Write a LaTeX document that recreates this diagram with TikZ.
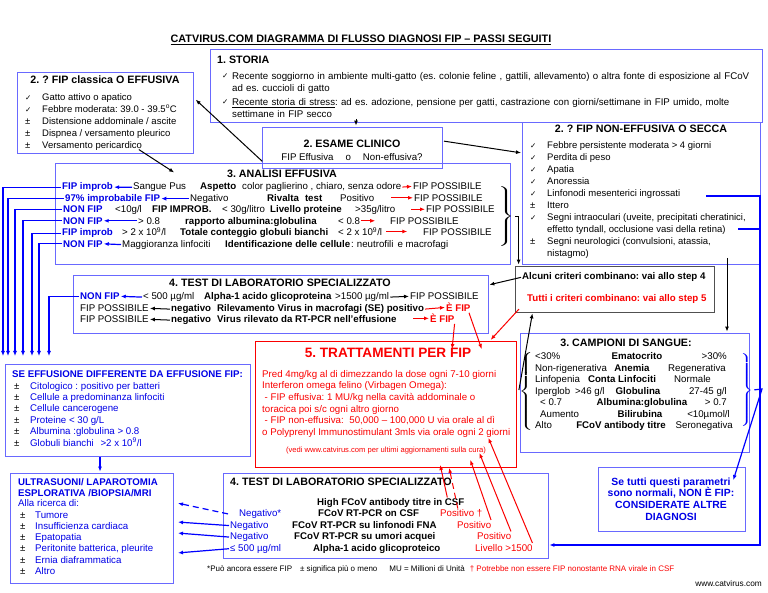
\documentclass[tikz,border=0pt]{standalone}
\usepackage{fontspec}
\setmainfont{Liberation Sans}
\newfontfamily\symfont{DejaVu Sans}
\usepackage{graphicx}
\usetikzlibrary{arrows.meta}
\hyphenpenalty=10000
\exhyphenpenalty=10000
\frenchspacing

\definecolor{boxblue}{RGB}{105,105,255}
\definecolor{lnblue}{RGB}{0,0,255}
\definecolor{txblue}{RGB}{0,0,230}
\definecolor{txred}{RGB}{250,0,0}
\definecolor{boxgray}{RGB}{80,80,80}

\newcommand{\fsn}{\fontsize{9.7}{11.5}\selectfont}
\newcommand{\fsh}{\fontsize{10.7}{12}\selectfont\bfseries}
\newcommand{\tck}{{\symfont\fontsize{7.5}{9}\selectfont ✓}}
\newcommand{\pmk}{\textcolor{black}{±}}

\tikzset{
  bbox/.style={draw=boxblue, line width=0.8pt, inner sep=0pt},
  lbl/.style={anchor=mid west, inner sep=0pt, font=\fsn},
  lblb/.style={anchor=mid west, inner sep=0pt, font=\fsn\bfseries},
  lblc/.style={anchor=mid, inner sep=0pt, font=\fsn},
  lble/.style={anchor=mid east, inner sep=0pt, font=\fsn},
  fipb/.style={lblb, text=txblue},
  hd/.style={anchor=mid west, inner sep=0pt, font=\fsh},
  hdc/.style={anchor=mid, inner sep=0pt, font=\fsh},
  lst/.style={anchor=base west, inner sep=0pt, font=\fsn},
  para/.style={anchor=base west, inner sep=0pt, font=\fontsize{9.7}{12}\selectfont, text width=530pt, align=left},
  karrow/.style={draw=black, line width=1pt, shorten <=1pt, shorten >=1pt, -{Latex[length=5pt,width=4pt]}},
  barrow/.style={draw=lnblue, line width=1.2pt, shorten <=1pt, shorten >=1pt, -{Latex[length=5pt,width=4pt]}},
  rarrow/.style={draw=txred, line width=1pt, shorten <=1pt, shorten >=1pt, -{Latex[length=5pt,width=4pt]}},
  bline/.style={draw=lnblue, line width=1.2pt}
}

\begin{document}
\begin{tikzpicture}[x=1pt,y=-1pt]
  \useasboundingbox (0,0) rectangle (768,593);

  \node[font=\fontsize{10.8}{12}\selectfont\bfseries, inner sep=0pt] (title) at (361,40) {\underline{CATVIRUS.COM DIAGRAMMA DI FLUSSO DIAGNOSI FIP – PASSI SEGUITI}};

  % boxes
  \node[bbox, minimum width=552, minimum height=73] (storia) at (486,85.5) {};
  \node[bbox, minimum width=176, minimum height=81] (fipclas) at (105,112.5) {};
  \node[bbox, minimum width=180, minimum height=41] (esame) at (352,147.5) {};
  \node[bbox, minimum width=238, minimum height=142] (secca) at (641,193) {};
  \node[bbox, minimum width=455, minimum height=101] (analisi) at (282.5,213.5) {};
  \node[bbox, minimum width=415, minimum height=58] (testa) at (280.5,304) {};
  \node[bbox, draw=boxgray, minimum width=199, minimum height=46] (criteri) at (614.5,289) {};
  \node[bbox, draw=txred, minimum width=261, minimum height=126] (tratt) at (385.5,404) {};
  \node[bbox, minimum width=229, minimum height=119] (campioni) at (634.5,392.5) {};
  \node[bbox, minimum width=245, minimum height=92] (seeff) at (127.5,410) {};
  \node[bbox, minimum width=163, minimum height=110] (ultra) at (91.5,528) {};
  \node[bbox, minimum width=325, minimum height=85] (testb) at (385.5,515.5) {};
  \node[bbox, minimum width=147, minimum height=64] (setutti) at (671.5,499) {};

  % 1. storia
  \node[hd] (storiah) at (217,61) {1. STORIA};
  \node[lbl] (ck1) at (222,76) {\tck};
  \node[para] (st1) at (232,79.3) {\makebox[525pt][s]{Recente soggiorno in ambiente multi-gatto (es. colonie feline , gattili, allevamento) o altra fonte di esposizione al FCoV}\\ad es. cuccioli di gatto};
  \node[lbl] (ck2) at (222,102) {\tck};
  \node[para] (st2) at (232,105.3) {\makebox[525pt][s]{\underline{Recente storia di stress}: ad es. adozione, pensione per gatti, castrazione con giorni/settimane in FIP umido, molte}\\settimane in FIP secco};
  \coordinate (secco) at (356,118);

  % 2. fip classica
  \node[hdc] (fipclash) at (105,81) {2. ? FIP classica O EFFUSIVA};
  \node[lst, font=\fontsize{9.5}{12}\selectfont] (fipclasl) at (25,100.3) {\begin{tabular}[t]{@{}p{17pt}@{}l@{}}
    \tck & Gatto attivo o apatico\\
    \tck & Febbre moderata: 39.0 - 39.5\textsuperscript{o}C\\
    ± & Distensione addominale / ascite\\
    ± & Dispnea / versamento pleurico\\
    ± & Versamento pericardico
  \end{tabular}};

  % 2. esame clinico
  \node[hdc] (esameh) at (352,145) {2. ESAME CLINICO};
  \node[lblc] (esamet) at (352,158) {FIP Effusiva\hspace{12pt}o\hspace{12pt}Non-effusiva?};

  % 2. fip secca
  \node[hdc] (seccah) at (641,130) {2. ? FIP NON-EFFUSIVA O SECCA};
  \node[lst, font=\fontsize{9.5}{12}\selectfont] (seccal) at (530,148.3) {\begin{tabular}[t]{@{}p{17pt}@{}l@{}}
    \tck & Febbre persistente moderata > 4 giorni\\
    \tck & Perdita di peso\\
    \tck & Apatia\\
    \tck & Anoressia\\
    \tck & Linfonodi mesenterici ingrossati\\
    ± & Ittero\\
    \tck & Segni intraoculari (uveite, precipitati cheratinici,\\
     & effetto tyndall, occlusione vasi della retina)\\
    ± & Segni neurologici (convulsioni, atassia,\\
     & nistagmo)
  \end{tabular}};
  \coordinate (linf) at (705,196);
  \coordinate (tynd) at (738,229);

  % 3. analisi effusiva
  \node[hdc] (analisih) at (282,175) {3. ANALISI EFFUSIVA};
  \node[fipb] (a1a) at (62,187) {FIP improb};
  \node[lbl] (a1b) at (133,187) {Sangue Pus};
  \node[lblb] (a1c) at (200,187) {Aspetto};
  \node[lbl] (a1d) at (242,187) {color paglierino , chiaro, senza odore};
  \node[lbl] (a1e) at (413,187) {FIP POSSIBILE};
  \node[fipb] (a2a) at (65,198.5) {97\% improbabile FIP};
  \node[lbl] (a2b) at (190,198.5) {Negativo};
  \node[lblb] (a2c) at (267,198.5) {Rivalta\hspace{6pt}test};
  \node[lbl] (a2d) at (340,198.5) {Positivo};
  \node[lbl] (a2e) at (414,198.5) {FIP POSSIBILE};
  \node[fipb] (a3a) at (63,210) {NON FIP};
  \node[lbl] (a3b) at (115,210) {<10g/l};
  \node[lblb] (a3c) at (152,210) {FIP IMPROB.};
  \node[lbl] (a3d) at (222,210) {< 30g/litro};
  \node[lblb] (a3e) at (270,210) {Livello proteine};
  \node[lbl] (a3f) at (355,210) {>35g/litro};
  \node[lbl] (a3g) at (426,210) {FIP POSSIBILE};
  \node[fipb] (a4a) at (63,221.5) {NON FIP};
  \node[lbl] (a4b) at (138,221.5) {> 0.8};
  \node[lblb] (a4c) at (185,221.5) {rapporto albumina:globulina};
  \node[lbl] (a4d) at (338,221.5) {< 0.8};
  \node[lbl] (a4e) at (390,221.5) {FIP POSSIBILE};
  \node[fipb] (a5a) at (62,233) {FIP improb};
  \node[lbl] (a5b) at (122,233) {> 2 x 10\textsuperscript{9}/l};
  \node[lblb] (a5c) at (180,233) {Totale conteggio globuli bianchi};
  \node[lbl] (a5d) at (338,233) {< 2 x 10\textsuperscript{9}/l};
  \node[lbl] (a5e) at (423,233) {FIP POSSIBILE};
  \node[fipb] (a6a) at (63,244.5) {NON FIP};
  \node[lbl] (a6b) at (122,244.5) {Maggioranza linfociti};
  \node[lblb] (a6c) at (225,244.5) {Identificazione delle cellule};
  \node[lbl] (a6d) at (351,244.5) {:\hspace{3pt}neutrofili\hspace{4pt}e macrofagi};
  \node[inner sep=0pt] (abrace) at (505,217) {\scalebox{1.8}[1]{$\left.\vcenter{\hbox{\rule{0pt}{64pt}}}\right\}$}};

  \draw[barrow] (a1b.west) -- (a1a.east);
  \draw[rarrow] (a1d.east) -- (a1e.west);
  \draw[barrow] (a2b.west) -- (a2a.east);
  \draw[rarrow] ([xshift=-24pt]a2e.west) -- (a2e.west);
  \draw[rarrow] ([xshift=-16pt]a3g.west) -- (a3g.west);
  \draw[barrow] (a4b.west) -- (a4a.east);
  \draw[rarrow] (a4d.east) -- ([xshift=16pt]a4d.east);
  \draw[rarrow] ([xshift=3pt]a5d.east) -- ([xshift=26pt]a5d.east);
  \draw[barrow] (a6b.west) -- (a6a.east);

  % 4. test (effusiva)
  \node[hdc] (testah) at (280,284) {4. TEST DI LABORATORIO SPECIALIZZATO};
  \node[fipb] (t1a) at (80,297) {NON FIP};
  \node[lbl] (t1b) at (143,297) {< 500 µg/ml};
  \node[lblb] (t1c) at (204,297) {Alpha-1 acido glicoproteina};
  \node[lbl] (t1d) at (335,297) {>1500 µg/ml};
  \node[lbl] (t1e) at (410,297) {FIP POSSIBILE};
  \node[lbl] (t2a) at (80,309) {FIP POSSIBILE};
  \node[lblb] (t2b) at (171,309) {negativo};
  \node[lblb] (t2c) at (217,309) {Rilevamento Virus in macrofagi (SE) positivo};
  \node[lblb, text=txred] (t2d) at (446,309) {È FIP};
  \node[lbl] (t3a) at (80,320) {FIP POSSIBILE};
  \node[lblb] (t3b) at (171,320) {negativo};
  \node[lblb] (t3c) at (217,320) {Virus rilevato da RT-PCR nell’effusione};
  \node[lblb, text=txred] (t3d) at (430,320) {È FIP};

  \draw[barrow] (t1b.west) -- (t1a.east);
  \draw[karrow] (t1d.east) -- (t1e.west);
  \draw[karrow] (t2b.west) -- (t2a.east);
  \draw[rarrow] (t2c.east) -- (t2d.west);
  \draw[karrow] (t3b.west) -- (t3a.east);
  \draw[rarrow] ([xshift=-18pt]t3d.west) -- (t3d.west);

  % criteri
  \node[lblb] (cr1) at (522,277) {Alcuni criteri combinano: vai allo step 4};
  \node[lblb, text=txred] (cr2) at (527,299) {Tutti i criteri combinano: vai allo step 5};

  % 3. campioni di sangue
  \node[hdc] (campionih) at (626,344) {3. CAMPIONI DI SANGUE:};
  \node[lbl] (c1l) at (535,357) {<30\%};
  \node[lblb, anchor=mid] (c1m) at (637,357) {Ematocrito};
  \node[lble] (c1r) at (727,357) {>30\%};
  \node[lbl] (c2l) at (535,368.5) {Non-rigenerativa};
  \node[lblb, anchor=mid] (c2m) at (632,368.5) {Anemia};
  \node[lble] (c2r) at (726,368.5) {Regenerativa};
  \node[lbl] (c3l) at (535,380) {Linfopenia};
  \node[lblb, anchor=mid] (c3m) at (622,380) {Conta Linfociti};
  \node[lble] (c3r) at (711,380) {Normale};
  \node[lbl] (c4l) at (535,391.5) {Iperglob\hspace{5pt}>46 g/l};
  \node[lblb, anchor=mid] (c4m) at (638,391.5) {Globulina};
  \node[lble] (c4r) at (727,391.5) {27-45 g/l};
  \node[lbl] (c5l) at (540,403) {< 0.7};
  \node[lblb, anchor=mid] (c5m) at (642,403) {Albumina:globulina};
  \node[lble] (c5r) at (727,403) {> 0.7};
  \node[lbl] (c6l) at (540,414.5) {Aumento};
  \node[lblb, anchor=mid] (c6m) at (640,414.5) {Bilirubina};
  \node[lble] (c6r) at (730,414.5) {<10µmol/l};
  \node[lbl] (c7l) at (535,426) {Alto};
  \node[lblb, anchor=mid] (c7m) at (621,426) {FCoV antibody titre};
  \node[lble] (c7r) at (733,426) {Seronegativa};
  \node[inner sep=0pt] (cbrace) at (527,391) {\scalebox{1.6}[1]{$\left\{\vcenter{\hbox{\rule{0pt}{80pt}}}\right.$}};
  \node[inner sep=0pt, text=lnblue] (bbrace) at (746,390) {\scalebox{1.4}[1]{$\left.\vcenter{\hbox{\rule{0pt}{74pt}}}\right\}$}};

  % 5. trattamenti
  \node[inner sep=0pt, font=\fontsize{13.6}{16}\selectfont\bfseries, text=txred] (tratth) at (388,353) {5. TRATTAMENTI PER FIP};
  \node[lst, font=\fontsize{9.7}{11.6}\selectfont, text=txred] (trattl) at (262,377.3) {\begin{tabular}[t]{@{}l@{}}
    Pred 4mg/kg al di dimezzando la dose ogni 7-10 giorni\\
    Interferon omega felino (Virbagen Omega):\\
    \hspace{2.5pt}- FIP effusiva: 1 MU/kg nella cavità addominale o\\
    toracica poi s/c ogni altro giorno\\
    \hspace{2.5pt}- FIP non-effusiva:\hspace{3pt} 50,000 – 100,000 U via orale al dì\\
    o Polyprenyl Immunostimulant 3mls via orale ogni 2 giorni
  \end{tabular}};
  \node[inner sep=0pt, font=\fontsize{7.6}{8}\selectfont, text=txred] (vedi) at (386,451) {(vedi www.catvirus.com per ultimi aggiornamenti sulla cura)};

  % se effusione differente
  \node[fipb] (seeffh) at (12,375) {SE EFFUSIONE DIFFERENTE DA EFFUSIONE FIP:};
  \node[lst, font=\fontsize{9.7}{11.3}\selectfont, text=txblue] (seeffl) at (14,389.3) {\begin{tabular}[t]{@{}p{16pt}@{}l@{}}
    \pmk & Citologico : positivo per batteri\\
    \pmk & Cellule a predominanza linfociti\\
    \pmk & Cellule cancerogene\\
    \pmk & Proteine < 30 g/L\\
    \pmk & Albumina :globulina > 0.8\\
    \pmk & Globuli bianchi\hspace{4pt} >2 x 10\textsuperscript{9}/l
  \end{tabular}};

  % ultrasuoni
  \node[fipb] (ultrah1) at (18,483) {ULTRASUONI/ LAPAROTOMIA};
  \node[fipb] (ultrah2) at (18,494) {ESPLORATIVA /BIOPSIA/MRI};
  \node[lbl, text=txblue] (ultrah3) at (18,504) {Alla ricerca di:};
  \node[lst, font=\fontsize{9.7}{11.2}\selectfont, text=txblue] (ultral) at (20,518.3) {\begin{tabular}[t]{@{}p{15pt}@{}l@{}}
    \pmk & Tumore\\
    \pmk & Insufficienza cardiaca\\
    \pmk & Epatopatia\\
    \pmk & Peritonite batterica, pleurite\\
    \pmk & Ernia diaframmatica\\
    \pmk & Altro
  \end{tabular}};

  % 4. test (secca)
  \node[hd] (testbh) at (230,483) {4. TEST DI LABORATORIO SPECIALIZZATO};
  \node[lblb] (b1) at (317,503) {High FCoV antibody titre in CSF};
  \node[lbl, text=txblue] (b2a) at (239,514) {Negativo*};
  \node[lblb] (b2b) at (318,514) {FCoV RT-PCR on CSF};
  \node[lbl, text=txred] (b2c) at (440,514) {Positivo †};
  \node[lbl, text=txblue] (b3a) at (230,525.5) {Negativo};
  \node[lblb] (b3b) at (292,525.5) {FCoV RT-PCR su linfonodi FNA};
  \node[lbl, text=txred] (b3c) at (457,525.5) {Positivo};
  \node[lbl, text=txblue] (b4a) at (230,537) {Negativo};
  \node[lblb] (b4b) at (294,537) {FCoV RT-PCR su umori acquei};
  \node[lbl, text=txred] (b4c) at (477,537) {Positivo};
  \node[lbl, text=txblue] (b5a) at (230,548.5) {≤ 500 µg/ml};
  \node[lblb] (b5b) at (313,548.5) {Alpha-1 acido glicoproteico};
  \node[lbl, text=txred] (b5c) at (475,548.5) {Livello >1500};

  % se tutti normali
  \node[inner sep=0pt, font=\fontsize{10.4}{11.8}\selectfont\bfseries, text=txblue, align=center] (setuttit) at (671,499) {Se tutti questi parametri\\sono normali, NON È FIP:\\CONSIDERATE ALTRE\\DIAGNOSI};

  % footnotes
  \node[anchor=mid west, inner sep=0pt, font=\fontsize{8}{9}\selectfont] (foot) at (207,569) {*Può ancora essere FIP\hspace{8pt}± significa più o meno\hspace{12pt}MU = Millioni di Unità\hspace{5pt}\textcolor{txred}{† Potrebbe non essere FIP nonostante RNA virale in CSF}};
  \node[anchor=mid east, inner sep=0pt, font=\fontsize{8.3}{9}\selectfont] (www) at (762,584) {www.catvirus.com};

  % free ends
  \coordinate (fc1) at (195,99);
  \coordinate (e1) at (263,162);
  \coordinate (e2) at (443,141);
  \coordinate (s1) at (522,153);
  \coordinate (v1) at (138,149);
  \coordinate (v2) at (175,173);
  \coordinate (sc1) at (727,257);
  \coordinate (g1) at (482,350);
  \coordinate (g2) at (452,350);
  \coordinate (d1) at (3,357);
  \coordinate (d2) at (8,357);
  \coordinate (d3) at (15,357);
  \coordinate (d4) at (23,357);
  \coordinate (d5) at (32,357);
  \coordinate (d6) at (39,357);
  \coordinate (d7) at (49,357);
  \coordinate (rtop) at (760,196);
  \coordinate (rbot) at (760,545);
  \coordinate (bk) at (762,389);
  \coordinate (stt) at (733,481);
  \coordinate (u1) at (177,503);
  \coordinate (u2) at (177,522);
  \coordinate (u3) at (177,533);
  \coordinate (u4) at (177,553);
  \coordinate (f1) at (440,464);
  \coordinate (f2) at (449,467);
  \coordinate (f3) at (470,459);
  \coordinate (f4) at (479,452);
  \coordinate (f5) at (488,437);

  % black connectors
  \draw[karrow] (secco) -- (secco |- esame.north);
  \draw[karrow] (e1) -- (fc1);
  \draw[karrow] (e2) -- (s1);
  \draw[karrow] (v1) -- (v2);
  \draw[karrow] (abrace.east) -| ([xshift=4pt]criteri.north west);
  \draw[karrow] (cr1.west) -- ([yshift=19pt]testa.east);
  \draw[karrow] (cbrace.west) -- ([xshift=18pt]criteri.south west);
  \draw[karrow] (sc1) -- (sc1 |- campioni.north);

  % blue connectors
  \draw[barrow] (a1a.west) -| (d1);
  \draw[barrow] (a2a.west) -| (d2);
  \draw[barrow] (a3a.west) -| (d3);
  \draw[barrow] (a4a.west) -| (d4);
  \draw[barrow] (a5a.west) -| (d5);
  \draw[barrow] (a6a.west) -| (d6);
  \draw[barrow] (t1a.west) -| (d7);
  \draw[barrow] ([xshift=-27.5pt]seeff.south) -- ([xshift=8.5pt]ultra.north);
  \draw[barrow] (linf) -- (rtop) -- (rbot) -- (rbot -| testb.east);
  \draw[bline] (tynd) -- (tynd -| rtop);
  \draw[barrow] (bbrace.east) -- (bk) -- (stt);
  \draw[barrow, dash pattern=on 6pt off 4pt] ([xshift=-10pt]b2a.west) -- (u1);
  \draw[barrow] (b3a.west) -- (u2);
  \draw[barrow] (b4a.west) -- (u3);
  \draw[barrow] (b5a.west) -- (u4);

  % red connectors
  \draw[rarrow] ([xshift=-2pt]t2d.south east) -- (g1);
  \draw[rarrow] (t3d.south east) -- (g2);
  \draw[rarrow] ([xshift=5pt,yshift=4pt]criteri.south west) -- ([xshift=104.5pt]tratt.north);
  \draw[rarrow] ([xshift=-17pt]b1.north east) -- (f1);
  \draw[rarrow, dash pattern=on 6pt off 4pt] ([xshift=18pt]b2c.north west) -- (f2);
  \draw[rarrow] (b3c.north east) -- (f3);
  \draw[rarrow] (b4c.north east) -- (f4);
  \draw[rarrow] (b5c.north east) -- (f5);
\end{tikzpicture}
\end{document}
